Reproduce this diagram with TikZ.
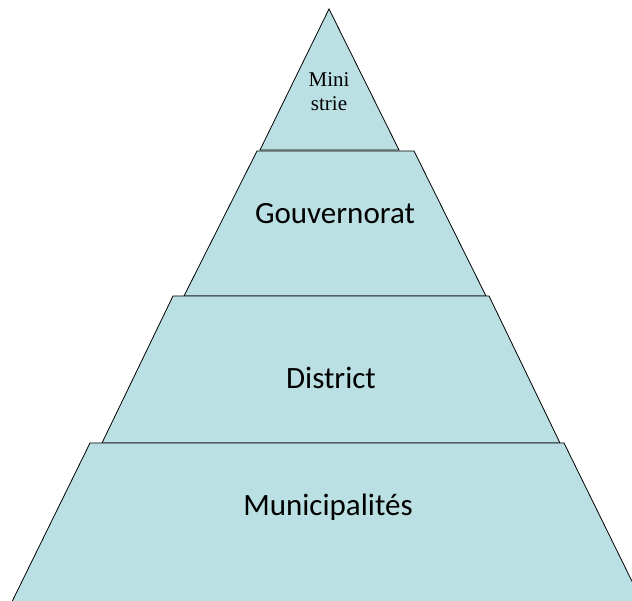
\documentclass[tikz,border=0pt]{standalone}
\usepackage{fontspec}
\setmainfont{Carlito}
\newfontfamily\serifface{Liberation Serif}
\definecolor{levelfill}{RGB}{187,224,227}

\begin{document}
\begin{tikzpicture}[x=1pt,y=-1pt]
\clip (0,0) rectangle (632,601);
\tikzset{level/.style={fill=levelfill,draw=black,line width=0.8pt,line join=miter}}

% the four levels, top first so each one below covers the edge above
\filldraw[level] (329,9) -- (399,150) -- (260,150) -- cycle;
\filldraw[level] (257,151) -- (414,151) -- (486,296) -- (184,296) -- cycle;
\filldraw[level] (173,296) -- (489,296) -- (560,443) -- (102,443) -- cycle;
\filldraw[level] (90,443) -- (564,443) -- (651,620) -- (3,620) -- cycle;

\node[align=center,inner sep=0pt,font=\serifface\fontsize{21}{24}\selectfont] (min) at (329,92) {Mini\\strie};
\node[inner sep=0pt,font=\fontsize{31}{37}\selectfont] (gov) at (335,214) {Gouvernorat};
\node[inner sep=0pt,font=\fontsize{31}{37}\selectfont] (dist) at (331,378) {District};
\node[inner sep=0pt,font=\fontsize{31}{37}\selectfont] (mun) at (328,507) {Municipalités};
\end{tikzpicture}
\end{document}
